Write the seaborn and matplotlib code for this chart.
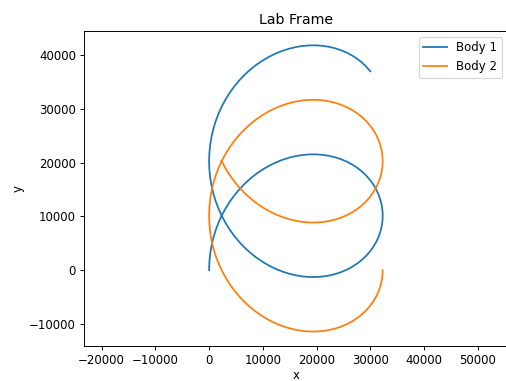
import matplotlib
matplotlib.use("Agg")
import matplotlib.pyplot as plt
import pandas as pd
import seaborn as sns

# Trajectory samples of the two bodies in the lab frame
body1_x = [0, 50, 199, 446, 790, 1229, 1760, 2380, 3084, 3869, 4730, 5661, 6657, 7712, 8818, 9970, 11159, 12380, 13624, 14883,
           16150, 17417, 18676, 19920, 21141, 22330, 23482, 24588, 25643, 26639, 27570, 28431, 29216, 29920, 30540, 31071, 31510, 31854, 32101, 32250,
           32300, 32250, 32101, 31854, 31510, 31071, 30540, 29920, 29216, 28431, 27570, 26639, 25643, 24588, 23482, 22330, 21141, 19920, 18676, 17417,
           16150, 14883, 13624, 12380, 11159, 9970, 8818, 7712, 6657, 5661, 4730, 3869, 3084, 2380, 1760, 1229, 790, 446, 199, 50,
           0, 50, 199, 446, 790, 1229, 1760, 2380, 3084, 3869, 4730, 5661, 6657, 7712, 8818, 9970, 11159, 12380, 13624, 14883,
           16150, 17417, 18676, 19920, 21141, 22330, 23482, 24588, 25643, 26639, 27570, 28431, 29216, 29993]
body1_y = [0, 1520, 3033, 4530, 6004, 7446, 8852, 10211, 11519, 12769, 13953, 15067, 16105, 17063, 17936, 18720, 19413, 20010, 20510, 20912,
           21216, 21419, 21523, 21530, 21439, 21253, 20976, 20609, 20158, 19626, 19019, 18341, 17598, 16797, 15944, 15045, 14109, 13142, 12151, 11145,
           10132, 9118, 8112, 7121, 6154, 5218, 4319, 3467, 2665, 1922, 1245, 637, 105, -346, -712, -990, -1176, -1267, -1260, -1156,
           -953, -649, -247, 253, 851, 1543, 2327, 3200, 4158, 5196, 6310, 7494, 8744, 10052, 11411, 12817, 14259, 15733, 17231, 18743,
           20263, 21783, 23296, 24793, 26267, 27709, 29115, 30474, 31783, 33032, 34216, 35330, 36369, 37326, 38199, 38983, 39676, 40273, 40773, 41175,
           41479, 41682, 41787, 41793, 41702, 41516, 41239, 40872, 40421, 39889, 39282, 38604, 37861, 36968]

body2_x = [32300, 32250, 32101, 31854, 31510, 31071, 30540, 29920, 29216, 28431, 27570, 26639, 25643, 24588, 23482, 22330, 21141, 19920, 18676, 17417,
           16150, 14883, 13624, 12380, 11159, 9970, 8818, 7712, 6657, 5661, 4730, 3869, 3084, 2380, 1760, 1229, 790, 446, 199, 50,
           0, 50, 199, 446, 790, 1229, 1760, 2380, 3084, 3869, 4730, 5661, 6657, 7712, 8818, 9970, 11159, 12380, 13624, 14883,
           16150, 17417, 18676, 19920, 21141, 22330, 23482, 24588, 25643, 26639, 27570, 28431, 29216, 29920, 30540, 31071, 31510, 31854, 32101, 32250,
           32300, 32250, 32101, 31854, 31510, 31071, 30540, 29920, 29216, 28431, 27570, 26639, 25643, 24588, 23482, 22330, 21141, 19920, 18676, 17417,
           16150, 14883, 13624, 12380, 11159, 9970, 8818, 7712, 6657, 5661, 4730, 3869, 3084, 2307]
body2_y = [0, -1014, -2019, -3010, -3978, -4914, -5812, -6665, -7467, -8209, -8887, -9495, -10027, -10477, -10844, -11122, -11307, -11398, -11392, -11288,
           -11084, -10781, -10379, -9878, -9281, -8589, -7804, -6931, -5974, -4936, -3821, -2637, -1388, -79, 1280, 2685, 4127, 5602, 7099, 8611,
           10132, 11652, 13164, 14661, 16136, 17578, 18983, 20343, 21651, 22900, 24085, 25199, 26237, 27194, 28068, 28852, 29544, 30141, 30642, 31044,
           31347, 31551, 31655, 31661, 31571, 31385, 31107, 30740, 30290, 29758, 29150, 28472, 27730, 26928, 26075, 25177, 24241, 23273, 22283, 21277,
           20263, 19249, 18244, 17253, 16285, 15349, 14451, 13598, 12797, 12054, 11376, 10768, 10237, 9786, 9419, 9141, 8956, 8865, 8871, 8975,
           9179, 9482, 9885, 10385, 10982, 11674, 12459, 13332, 14289, 15327, 16442, 17626, 18875, 20332]

labels = ["Body 1", "Body 2"]

df1 = pd.DataFrame({"x": body1_x, "y": body1_y})
df2 = pd.DataFrame({"x": body2_x, "y": body2_y})

fig = plt.figure(figsize=(506 / 85, 381 / 85), dpi=85)
ax = fig.add_axes([84.3 / 506, 1 - 345.7 / 381, (508 - 84.3) / 506, (345.7 - 30.7) / 381])

sns.lineplot(data=df1, x="x", y="y", sort=False, estimator=None,
             color="#1f77b4", linewidth=1.5, label=labels[0], ax=ax)
sns.lineplot(data=df2, x="x", y="y", sort=False, estimator=None,
             color="#ff7f0e", linewidth=1.5, label=labels[1], ax=ax)

ax.set_xlim(-23219, 55609)
ax.set_ylim(-14033, 44517)
ax.set_xticks([-20000, -10000, 0, 10000, 20000, 30000, 40000, 50000])
ax.set_yticks([-10000, 0, 10000, 20000, 30000, 40000])
ax.set_title("Lab Frame")
ax.set_xlabel("x", labelpad=2)
ax.set_ylabel("y")
ax.legend(loc="upper right")

fig.savefig("out.png", dpi=85)
